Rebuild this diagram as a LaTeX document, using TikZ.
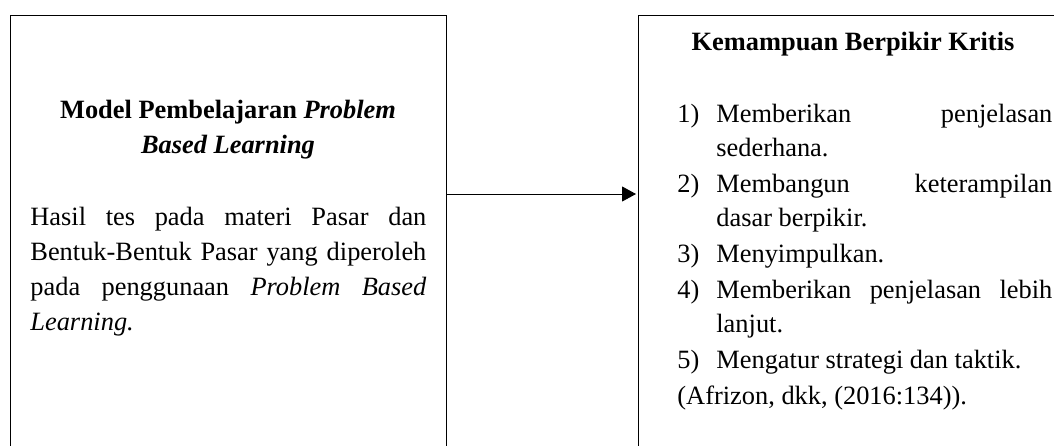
\documentclass[tikz,border=0pt]{standalone}
\usepackage{fontspec}
\setmainfont{Liberation Serif}
\usetikzlibrary{arrows.meta}
\tikzset{
  boxframe/.style={draw, line width=0.6pt, inner sep=0pt, anchor=north west},
  txt/.style={inner sep=0pt, anchor=base},
  arr/.style={line width=0.5pt, -{Triangle[length=7pt,width=7.5pt]}, shorten >=1pt}
}
\newcommand{\listitem}[2]{\noindent\hangindent=19.5pt\hangafter=1\makebox[19.5pt][l]{#1}#2\par}
\begin{document}
\begin{tikzpicture}[x=0.5pt,y=-0.5pt]
\useasboundingbox (0,0) rectangle (1054,445);
\fontsize{13.2}{17.5}\selectfont
% frames (extend beyond the page, as in the cropped reference)
\node[boxframe, minimum width=218pt, minimum height=235pt] (leftbox) at (10,15) {};
\node[boxframe, minimum width=219pt, minimum height=235pt] (rightbox) at (638,15) {};
% left box text
\node[txt] (lefttitle) at (228,118) {\parbox[t]{220pt}{\centering\fontsize{13.2}{17.5}\selectfont\bfseries
  Model Pembelajaran \textit{Problem}\\ \textit{Based Learning}}};
\node[txt, anchor=base west] (leftbody) at (30,225) {\parbox[t]{198pt}{\fontsize{13.2}{17.5}\selectfont\tolerance=10000
  Hasil tes pada materi Pasar dan\linebreak
  Bentuk-Bentuk Pasar yang diperoleh\linebreak
  pada penggunaan \textit{Problem Based}\linebreak
  \textit{Learning.}}};
% right box text
\node[txt] (righttitle) at (853,50) {\bfseries Kemampuan Berpikir Kritis};
\node[txt, anchor=base west] (rightlist) at (677,122) {\parbox[t]{187.5pt}{\fontsize{13.2}{17}\selectfont\tolerance=10000\setlength{\parskip}{1pt}\setlength{\parindent}{0pt}%
  \listitem{1)}{Memberikan penjelasan\linebreak sederhana.}
  \listitem{2)}{Membangun keterampilan\linebreak dasar berpikir.}
  \listitem{3)}{Menyimpulkan.}
  \listitem{4)}{Memberikan penjelasan lebih\linebreak lanjut.}
  \listitem{5)}{Mengatur strategi dan taktik.}
  \noindent(Afrizon, dkk, (2016:134)).\par}};
% connector
\coordinate (ay) at (0,194);
\draw[arr] (leftbox.east |- ay) -- (rightbox.west |- ay);
\end{tikzpicture}
\end{document}
